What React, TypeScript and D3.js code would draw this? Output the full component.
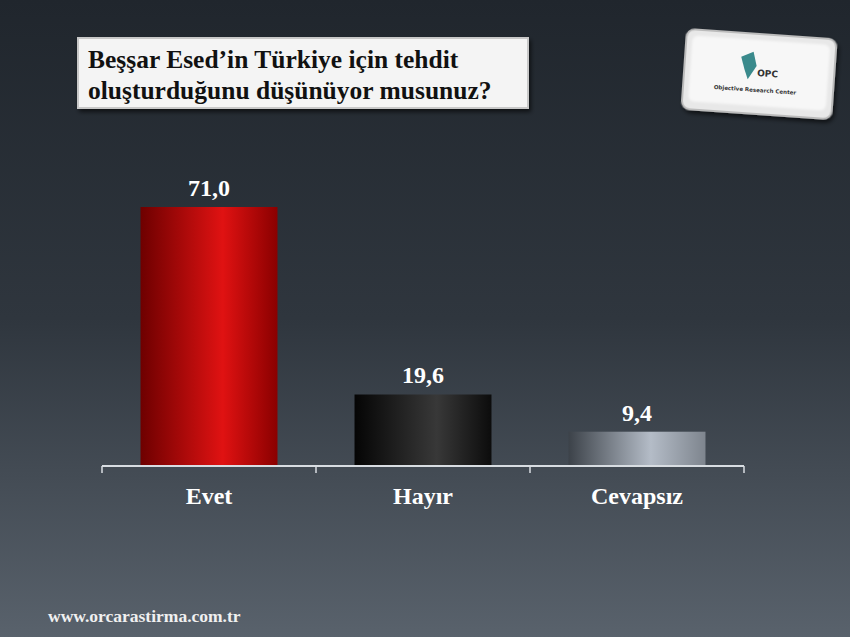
import React from "react";
import * as d3 from "d3";

const categories = ["Evet", "Hayır", "Cevapsız"];
const values = [71.0, 19.6, 9.4];
const valueLabels = ["71,0", "19,6", "9,4"];
const titleLines = ["Beşşar Esed’in Türkiye için tehdit", "oluşturduğunu düşünüyor musunuz?"];
const footer = "www.orcarastirma.com.tr";

const W = 850, H = 637;
const axisY = 466;
const x0 = 102, x1 = 744;

const gradStops: [string, string, string][] = [
  ["#6e0000", "#e01212", "#8a0000"],
  ["#050505", "#383838", "#0c0c0c"],
  ["#3c4249", "#b4bcc7", "#7e858e"],
];

export default function App() {
  const x = d3.scaleBand<string>().domain(categories).range([x0, x1]).paddingInner(0.36).paddingOuter(0.18);
  const y = d3.scaleLinear().domain([0, 80]).range([axisY, axisY - 80 * 3.648]);
  const bandStep = (x1 - x0) / categories.length;
  const serif = "'Liberation Serif', 'DejaVu Serif', serif";
  return (
    <svg width={W} height={H} style={{ display: "block", position: "absolute", left: 0, top: 0 }}>
      <defs>
        <linearGradient id="bg" x1="0" y1="0" x2="0" y2="1">
          <stop offset="0" stopColor="#20262d" />
          <stop offset="0.5" stopColor="#2f363e" />
          <stop offset="1" stopColor="#59626c" />
        </linearGradient>
        {gradStops.map((g, i) => (
          <linearGradient key={i} id={`bar${i}`} x1="0" y1="0" x2="1" y2="0">
            <stop offset="0" stopColor={g[0]} />
            <stop offset="0.6" stopColor={g[1]} />
            <stop offset="1" stopColor={g[2]} />
          </linearGradient>
        ))}
        <filter id="shadow" x="-10%" y="-20%" width="130%" height="150%">
          <feDropShadow dx="2" dy="3" stdDeviation="2" floodColor="#000" floodOpacity="0.6" />
        </filter>
        <filter id="blur">
          <feGaussianBlur stdDeviation="1.2" />
        </filter>
      </defs>
      <rect width={W} height={H} fill="url(#bg)" />

      {/* Title box */}
      <rect x={78} y={38} width={450} height={70} fill="#f4f4f4" stroke="#c8c8c8" strokeWidth={2} filter="url(#shadow)" />
      {titleLines.map((t, i) => (
        <text key={i} x={88} y={68 + i * 31} fontFamily={serif} fontWeight="bold" fontSize={25.5} fill="#111">
          {t}
        </text>
      ))}

      {/* Logo */}
      <g transform="rotate(4 758 75)">
        <rect x={684} y={34} width={150} height={80} rx={8} fill="#e8e8e8" stroke="#bbb" strokeWidth={2} filter="url(#shadow)" />
        <rect x={690} y={40} width={138} height={66} rx={6} fill="#f7f7f7" filter="url(#blur)" />
        <path d="M740 58 L752 52 L756 66 L748 80 L744 70 Z" fill="#3a8a8c" />
        <text x={757} y={76} fontFamily="'DejaVu Sans', sans-serif" fontWeight="bold" fontSize={9} fill="#333">OPC</text>
        <text x={756} y={92} textAnchor="middle" fontFamily="'DejaVu Sans', sans-serif" fontWeight="bold" fontSize={5.5} fill="#333">
          Objective Research Center
        </text>
      </g>

      {/* Bars */}
      {categories.map((c, i) => (
        <rect key={c} x={x(c)} y={y(values[i])} width={x.bandwidth()} height={axisY - y(values[i])} fill={`url(#bar${i})`} />
      ))}

      {/* Axis */}
      <line x1={x0} x2={x1} y1={axisY} y2={axisY} stroke="#d8dde2" strokeWidth={2} />
      {d3.range(categories.length + 1).map((i) => (
        <line key={i} x1={x0 + i * bandStep} x2={x0 + i * bandStep} y1={axisY} y2={axisY + 7} stroke="#d8dde2" strokeWidth={1.5} />
      ))}

      {/* Value labels */}
      {categories.map((c, i) => (
        <text key={c} x={(x(c) ?? 0) + x.bandwidth() / 2} y={y(values[i]) - 11} textAnchor="middle"
          fontFamily={serif} fontWeight="bold" fontSize={24} fill="#ffffff">
          {valueLabels[i]}
        </text>
      ))}

      {/* Category labels */}
      {categories.map((c) => (
        <text key={c} x={(x(c) ?? 0) + x.bandwidth() / 2} y={504} textAnchor="middle"
          fontFamily={serif} fontWeight="bold" fontSize={24} fill="#ffffff">
          {c}
        </text>
      ))}

      <text x={48} y={622} fontFamily={serif} fontWeight="bold" fontSize={17.5} fill="#f0f0f0">{footer}</text>
    </svg>
  );
}
